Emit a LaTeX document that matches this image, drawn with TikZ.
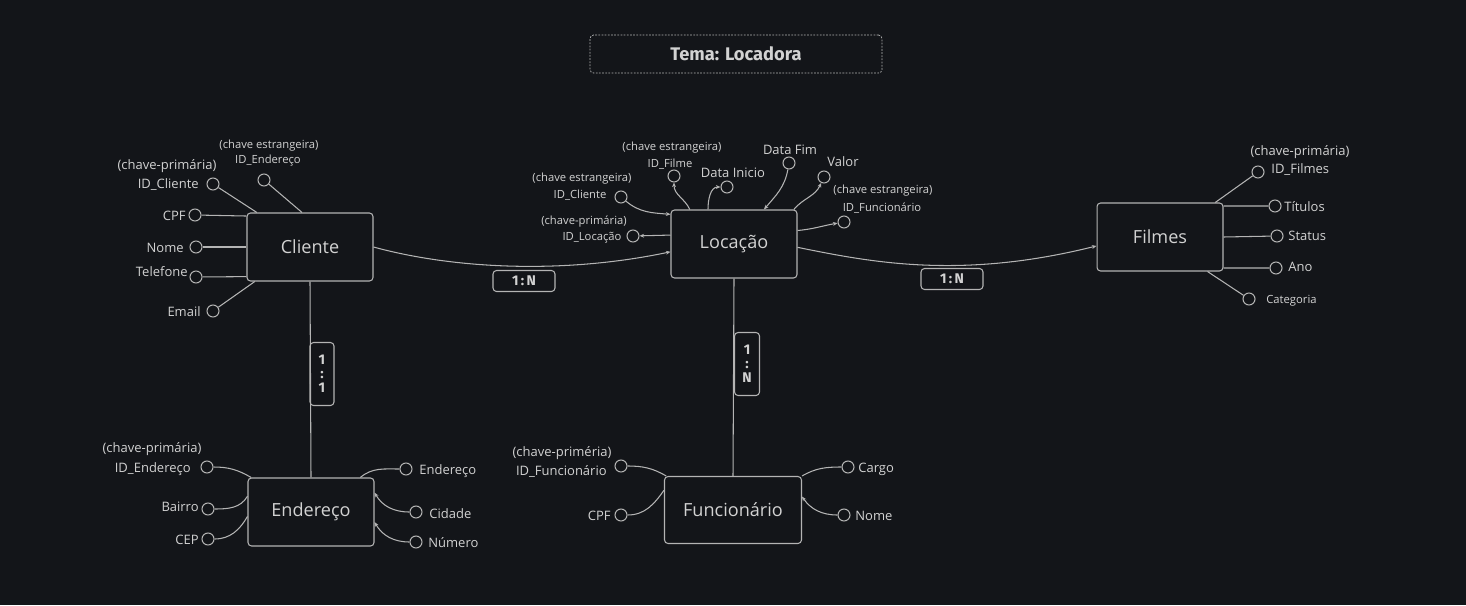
\documentclass[tikz,border=0pt]{standalone}
\usepackage{fontspec}
\setmainfont{Open Sans}
\newfontfamily\titlefont{Fira Sans}
\usetikzlibrary{arrows.meta}
\definecolor{bgdark}{HTML}{131519}
\definecolor{ink}{HTML}{D2D2D2}
\definecolor{wire}{HTML}{B4B4B4}
\begin{document}
\begin{tikzpicture}
[x=0.02cm,y=-0.02cm]
\tikzset{ent/.style={draw=wire,rounded corners=2pt,line width=0.6pt,minimum width=2.52cm,minimum height=1.36cm,text=ink,font=\fontsize{10.3}{12}\selectfont}}
\tikzset{att/.style={circle,draw=wire,line width=0.6pt,minimum size=0.24cm,inner sep=0pt}}
\tikzset{lbl/.style={text=ink,inner sep=0pt,font=\fontsize{7.4}{9}\selectfont}}
\tikzset{note/.style={text=ink,inner sep=0pt,font=\fontsize{6.4}{8}\selectfont}}
\tikzset{rel/.style={draw=wire,rounded corners=2pt,line width=0.6pt,text=ink,inner sep=0pt,align=center,font=\titlefont\bfseries\fontsize{8}{9}\selectfont}}
\tikzset{attr/.style={draw=wire,line width=0.6pt,arrows={-}}}
\tikzset{tip/.style={-{Stealth[length=2.6pt,width=2.2pt]}}}
\fill[bgdark] (0,0) rectangle (1466,605);
\useasboundingbox (0,0) rectangle (1466,605);

% title
\node [draw=wire,dash pattern=on 1pt off 0.8pt,rounded corners=2pt,minimum width=5.84cm,minimum height=0.76cm,text=ink,font=\titlefont\bfseries\fontsize{10.4}{12}\selectfont] (tema) at (736,54) {Tema: Locadora};

% entities
\node [ent] (cli) at (310,247) {Cliente};
\node [ent] (loc) at (734,244) {Locação};
\node [ent] (fil) at (1160,237) {Filmes};
\node [ent] (end) at (311,512) {Endereço};
\node [ent,minimum width=2.74cm,minimum height=1.34cm] (fun) at (733,510) {Funcionário};

% cardinalities
\node [rel,minimum width=1.24cm,minimum height=0.42cm] (r1) at (524,281) {1\,:\,N};
\node [rel,minimum width=1.24cm,minimum height=0.42cm] (r2) at (952,279) {1\,:\,N};
\node [rel,minimum width=0.5cm,minimum height=1.26cm] (r3) at (747,364) {1\\[-1pt]:\\[-1pt]N};
\node [rel,minimum width=0.48cm,minimum height=1.26cm] (r4) at (322,374) {1\\[-1pt]:\\[-1pt]1};

% relationships
\draw [attr,tip] (cli.east) .. controls (450,268) and (560,275) .. (loc.187);
\draw [attr,tip] (loc.-3) .. controls (870,262) and (960,280) .. (fil.188);
\draw [attr] (cli.south) -- (end.north);
\draw [attr] (loc.south) -- (fun.north);

% Cliente attributes
\node [att] (cliIdC) at (213,184) {};
\node [att] (cliIdE) at (264,180) {};
\node [att] (cliCpf) at (195,215) {};
\node [att] (cliNome) at (196,247) {};
\node [att] (cliTel) at (196,277) {};
\node [att] (cliMail) at (213,311) {};
\node [lbl] (tPkCli) at (167,166) {(chave-primária)};
\node [lbl,anchor=east] (tIdCli) at (199,185) {ID\_Cliente};
\node [note] (tFkCli) at (269,146) {(chave estrangeira)};
\node [note] (tIdEndCli) at (268,161) {ID\_Endereço};
\node [lbl,anchor=east] (tCpfCli) at (186,216) {CPF};
\node [lbl,anchor=east] (tNomeCli) at (184,248) {Nome};
\node [lbl,anchor=east] (tTelCli) at (188,272) {Telefone};
\node [lbl,anchor=east] (tMailCli) at (201,312) {Email};

% Locacao attributes
\node [att] (locIdC) at (621,197) {};
\node [att] (locId) at (633,236) {};
\node [att] (locIdF) at (674,176) {};
\node [att] (locIni) at (727,187) {};
\node [att] (locFim) at (789,163) {};
\node [att] (locVal) at (824,177) {};
\node [att] (locIdFu) at (844,222) {};
\node [note] (tFkLoc1) at (582,179) {(chave estrangeira)};
\node [note] (tIdCliLoc) at (580,195) {ID\_Cliente};
\node [note] (tPkLoc) at (584,222) {(chave-primária)};
\node [note] (tIdLoc) at (592,238) {ID\_Locação};
\node [note] (tFkLoc2) at (672,148) {(chave estrangeira)};
\node [note] (tIdFilLoc) at (670,164) {ID\_Filme};
\node [lbl] (tIni) at (733,173) {Data Inicio};
\node [lbl] (tFim) at (790,150) {Data Fim};
\node [lbl] (tVal) at (843,162) {Valor};
\node [note] (tFkLoc3) at (883,191) {(chave estrangeira)};
\node [note] (tIdFunLoc) at (882,208) {ID\_Funcionário};

% Filmes attributes
\node [att] (filId) at (1258,172) {};
\node [att] (filTit) at (1275,206) {};
\node [att] (filSta) at (1277,236) {};
\node [att] (filAno) at (1276,268) {};
\node [att] (filCat) at (1249,299) {};
\node [lbl] (tPkFil) at (1300,152) {(chave-primária)};
\node [lbl,anchor=west] (tIdFil) at (1271,170) {ID\_Filmes};
\node [lbl,anchor=west] (tTit) at (1284,207) {Títulos};
\node [lbl,anchor=west] (tSta) at (1288,236) {Status};
\node [lbl,anchor=west] (tAno) at (1288,267) {Ano};
\node [note,anchor=west] (tCat) at (1266,301) {Categoria};

% Endereco attributes
\node [att] (endId) at (207,467) {};
\node [att] (endBai) at (208,509) {};
\node [att] (endCep) at (208,539) {};
\node [att] (endEnd) at (406,469) {};
\node [att] (endCid) at (416,512) {};
\node [att] (endNum) at (416,542) {};
\node [lbl] (tPkEnd) at (152,449) {(chave-primária)};
\node [lbl,anchor=east] (tIdEnd) at (191,469) {ID\_Endereço};
\node [lbl,anchor=east] (tBai) at (199,507) {Bairro};
\node [lbl,anchor=east] (tCep) at (199,540) {CEP};
\node [lbl,anchor=west] (tEnd) at (419,471) {Endereço};
\node [lbl,anchor=west] (tCid) at (429,514) {Cidade};
\node [lbl,anchor=west] (tNum) at (428,543) {Número};

% Funcionario attributes
\node [att] (funId) at (621,466) {};
\node [att] (funCpf) at (621,515) {};
\node [att] (funCar) at (848,467) {};
\node [att] (funNom) at (844,515) {};
\node [lbl] (tPkFun) at (562,453) {(chave-priméria)};
\node [lbl,anchor=east] (tIdFun) at (607,472) {ID\_Funcionário};
\node [lbl,anchor=east] (tCpfFun) at (611,516) {CPF};
\node [lbl,anchor=west] (tCar) at (858,469) {Cargo};
\node [lbl,anchor=west] (tNom) at (855,516) {Nome};

% straight attribute lines
\foreach \from/\to in {cliIdC/cli.147,cliIdE/cli.103,cliCpf/cli.154,cliNome/cli.west,cliTel/cli.205,cliMail/cli.212,filId/fil.32,filTit/fil.26,filSta/fil.east,filAno/fil.-26,filCat/fil.-36}
	\draw [attr] (\from) -- (\to);
\draw [attr,tip] (loc.172) -- (locId);

% curved attribute lines, tip at the box
\foreach \from/\to/\o/\i in {locIdC/loc.155/-40/175,locFim/loc.49/-100/50,endCid/end.17/180/-60,endNum/end.-9/180/-60,funNom/fun.11/180/-55}
	\draw [attr,tip] (\from) to [out=\o,in=\i] (\to);
% curved attribute lines, tip at the circle
\foreach \from/\to/\o/\i in {loc.142/locIdF/115/-90,loc.127/locIni/90/180,loc.30/locVal/50/-115,loc.12/locIdFu/5/190}
	\draw [attr,tip] (\from) to [out=\o,in=\i] (\to);
% curved attribute lines, plain
\foreach \from/\to/\o/\i in {endId/end.150/0/150,endBai/end.166/0/240,endCep/end.184/0/240,end.35/endEnd/40/180,funId/fun.153/0/150,funCpf/fun.164/0/235,fun.north east/funCar/30/180}
	\draw [attr] (\from) to [out=\o,in=\i] (\to);
\end{tikzpicture}
\end{document}
